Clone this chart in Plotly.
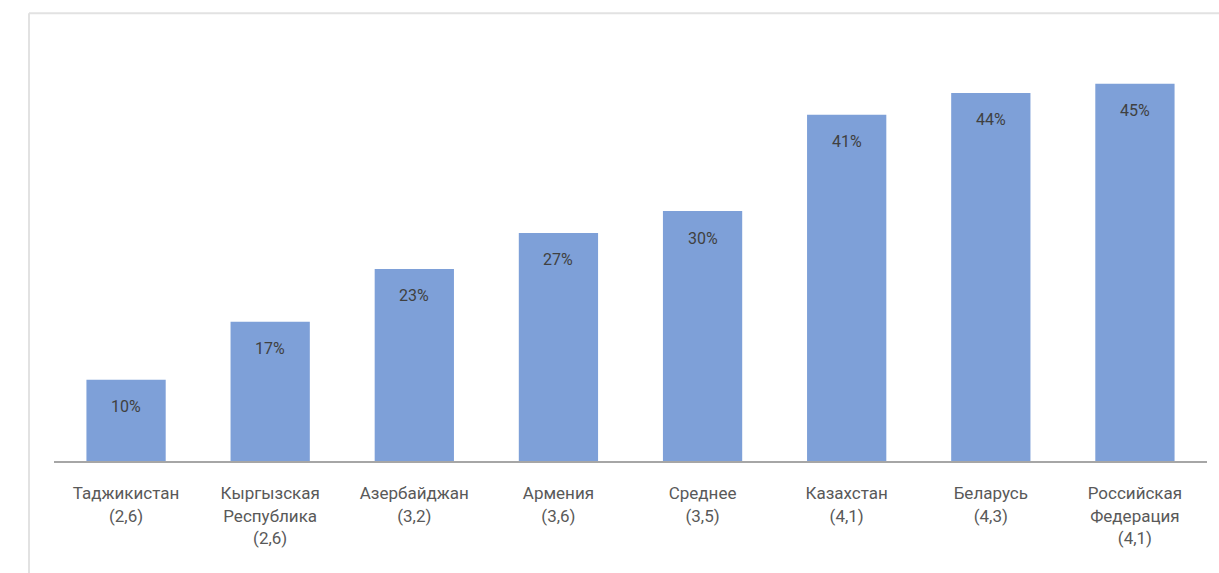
import plotly.graph_objects as go

categories = ["Таджикистан<br>(2,6)", "Кыргызская<br>Республика<br>(2,6)", "Азербайджан<br>(3,2)",
              "Армения<br>(3,6)", "Среднее<br>(3,5)", "Казахстан<br>(4,1)", "Беларусь<br>(4,3)",
              "Российская<br>Федерация<br>(4,1)"]
values = [9.7, 16.6, 22.9, 27.2, 29.8, 41.3, 43.9, 45.0]
labels = ["10%", "17%", "23%", "27%", "30%", "41%", "44%", "45%"]

FONT = "Roboto"

fig = go.Figure()
fig.add_trace(go.Bar(
    x=categories, y=values,
    marker=dict(color="#7EA0D8", line=dict(width=0)),
    width=0.55,
    hoverinfo="skip",
))

for c, v, t in zip(categories, values, labels):
    fig.add_annotation(x=c, y=v, text=t, showarrow=False, yshift=-27,
                       font=dict(family=FONT, size=16, color="#404040"))

# faint outer frame
fig.add_shape(type="line", xref="paper", yref="paper", x0=-0.0217, x1=1.02, y0=1.039, y1=1.039,
              line=dict(color="#e2e2e2", width=2))
fig.add_shape(type="line", xref="paper", yref="paper", x0=-0.0217, x1=-0.0217, y0=1.039, y1=-0.3,
              line=dict(color="#e2e2e2", width=2))

fig.update_layout(
    width=1219, height=573,
    margin=dict(l=54, r=12, t=30, b=112),
    paper_bgcolor="white", plot_bgcolor="white",
    showlegend=False,
    font=dict(family=FONT, size=17, color="#595959"),
    bargap=0.45,
)
fig.update_xaxes(showline=True, linecolor="#a6a6a6", linewidth=2, ticks="outside", ticklen=16,
                 tickcolor="rgba(0,0,0,0)", tickfont=dict(family=FONT, size=17, color="#595959"),
                 showgrid=False, zeroline=False, fixedrange=True)
fig.update_yaxes(range=[0, 51.4], visible=False, showgrid=False, zeroline=False, fixedrange=True)

fig.write_html("out.html")
